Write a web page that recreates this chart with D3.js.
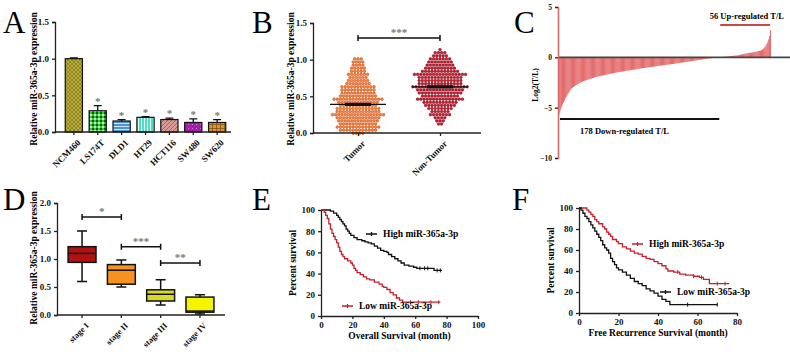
<!DOCTYPE html>
<html>
<head>
<meta charset="utf-8">
<script src="https://cdn.jsdelivr.net/npm/d3@7"></script>
<style>
  body { margin: 0; background: #fff; }
  svg { font-family: 'Liberation Serif', 'Times New Roman', serif; font-weight: bold; }
</style>
</head>
<body>
<div id="fig"></div>
<script>
// ---- data ----
// A: cell lines
const cellLines = ["NCM460", "LS174T", "DLD1", "HT29", "HCT116", "SW480", "SW620"];
const cellMeans = [1.00, 0.29, 0.15, 0.20, 0.17, 0.13, 0.13];
const cellErrors = [0.01, 0.07, 0.02, 0.01, 0.02, 0.05, 0.04];
const cellStars = ["", "*", "*", "*", "*", "*", "*"];

// B: tumor vs non-tumor
const groupNames = ["Tumor", "Non-Tumor"];
const groupMeans = [0.39, 0.63];
const tumorValues = [
  1.02, 1.01, 0.99, 0.98,
  0.97, 0.96, 0.95, 0.94, 0.93,
  0.92, 0.91, 0.90, 0.90, 0.89, 0.88,
  0.87, 0.86, 0.85, 0.84, 0.84, 0.83,
  0.82, 0.81, 0.80, 0.80, 0.79, 0.78, 0.78,
  0.77, 0.76, 0.76, 0.75, 0.74, 0.74, 0.73, 0.73,
  0.72, 0.72, 0.71, 0.70, 0.70, 0.69, 0.69, 0.68, 0.68,
  0.67, 0.67, 0.66, 0.66, 0.65, 0.65, 0.64, 0.64, 0.63, 0.63, 0.63, 0.62,
  0.62, 0.61, 0.61, 0.60, 0.60, 0.60, 0.59, 0.59, 0.58, 0.58, 0.58, 0.57, 0.57,
  0.57, 0.56, 0.56, 0.55, 0.55, 0.55, 0.54, 0.54, 0.54, 0.53, 0.53, 0.53, 0.52, 0.52,
  0.52, 0.51, 0.51, 0.51, 0.50, 0.50, 0.50, 0.49, 0.49, 0.49, 0.48, 0.48, 0.48, 0.47, 0.47,
  0.47, 0.46, 0.46, 0.46, 0.45, 0.45, 0.45, 0.45, 0.44, 0.44, 0.44, 0.43, 0.43, 0.43, 0.42, 0.42,
  0.42, 0.41, 0.41, 0.41, 0.40, 0.40, 0.40, 0.40, 0.39, 0.39, 0.39, 0.38, 0.38, 0.38, 0.37, 0.37,
  0.37, 0.36, 0.36, 0.36, 0.35, 0.35, 0.35, 0.35, 0.34, 0.34, 0.34, 0.34, 0.33, 0.33, 0.33, 0.32, 0.32,
  0.32, 0.31, 0.31, 0.31, 0.30, 0.30, 0.30, 0.30, 0.29, 0.29, 0.29, 0.29, 0.28, 0.28, 0.28, 0.27, 0.27,
  0.27, 0.26, 0.26, 0.26, 0.25, 0.25, 0.25, 0.25, 0.24, 0.24, 0.24, 0.24, 0.23, 0.23, 0.23, 0.22, 0.22,
  0.22, 0.21, 0.21, 0.21, 0.20, 0.20, 0.20, 0.20, 0.19, 0.19, 0.19, 0.19, 0.18, 0.18, 0.18, 0.17, 0.17,
  0.17, 0.16, 0.16, 0.16, 0.15, 0.15, 0.15, 0.15, 0.14, 0.14, 0.14, 0.13, 0.13, 0.13, 0.12, 0.12,
  0.12, 0.11, 0.11, 0.11, 0.10, 0.10, 0.10, 0.09, 0.09, 0.09, 0.08, 0.08, 0.08, 0.07,
  0.07, 0.06, 0.06, 0.06, 0.05, 0.05, 0.05, 0.04, 0.04, 0.04, 0.03, 0.03,
  0.03, 0.02, 0.02, 0.02, 0.01, 0.01, 0.01, 0.00
];
const nonTumorValues = [
  1.12, 1.11, 1.10, 1.10,
  1.08, 1.07, 1.06, 1.05, 1.05, 1.04,
  1.03, 1.02, 1.02, 1.01, 1.00, 1.00, 0.99, 0.98, 0.98,
  0.97, 0.97, 0.96, 0.96, 0.95, 0.95, 0.94, 0.94, 0.93, 0.93, 0.93,
  0.92, 0.92, 0.91, 0.91, 0.90, 0.90, 0.90, 0.89, 0.89, 0.88, 0.88, 0.88,
  0.87, 0.87, 0.86, 0.86, 0.86, 0.85, 0.85, 0.85, 0.84, 0.84, 0.84, 0.83, 0.83, 0.83,
  0.82, 0.82, 0.82, 0.81, 0.81, 0.81, 0.80, 0.80, 0.80, 0.80, 0.79, 0.79, 0.79, 0.78, 0.78, 0.78, 0.78,
  0.77, 0.77, 0.77, 0.76, 0.76, 0.76, 0.75, 0.75, 0.75, 0.75, 0.74, 0.74, 0.74, 0.74, 0.73, 0.73, 0.73, 0.73,
  0.72, 0.72, 0.72, 0.71, 0.71, 0.71, 0.70, 0.70, 0.70, 0.70, 0.69, 0.69, 0.69, 0.69, 0.68, 0.68, 0.68, 0.68,
  0.67, 0.67, 0.67, 0.66, 0.66, 0.66, 0.65, 0.65, 0.65, 0.65, 0.64, 0.64, 0.64, 0.64, 0.63, 0.63, 0.63, 0.63,
  0.62, 0.62, 0.62, 0.61, 0.61, 0.61, 0.60, 0.60, 0.60, 0.60, 0.59, 0.59, 0.59, 0.59, 0.58, 0.58, 0.58, 0.58,
  0.57, 0.57, 0.57, 0.56, 0.56, 0.56, 0.55, 0.55, 0.55, 0.55, 0.54, 0.54, 0.54, 0.53, 0.53, 0.53, 0.53,
  0.52, 0.52, 0.52, 0.51, 0.51, 0.51, 0.50, 0.50, 0.50, 0.49, 0.49, 0.49, 0.48, 0.48, 0.48, 0.48,
  0.47, 0.47, 0.46, 0.46, 0.46, 0.45, 0.45, 0.45, 0.44, 0.44, 0.44, 0.43, 0.43, 0.43, 0.43,
  0.42, 0.42, 0.41, 0.41, 0.40, 0.40, 0.40, 0.39, 0.39, 0.39, 0.38, 0.38, 0.38,
  0.37, 0.37, 0.36, 0.36, 0.35, 0.35, 0.34, 0.34, 0.33, 0.33,
  0.32, 0.32, 0.31, 0.30, 0.30, 0.29, 0.29, 0.28,
  0.27, 0.27, 0.26, 0.25, 0.25, 0.24, 0.23,
  0.22, 0.21, 0.20, 0.19, 0.18,
  0.17, 0.15, 0.14,
  0.11
];

// C: log2(T/L) per patient, sorted
const downValues = [
  -5.70, -5.50, -5.20, -4.95, -4.70, -4.50, -4.30, -4.10, -3.95, -3.80,
  -3.62, -3.50, -3.35, -3.20, -3.10, -3.02, -2.95, -2.88, -2.82, -2.76,
  -2.70, -2.65, -2.60, -2.55, -2.50, -2.46, -2.42, -2.38, -2.34, -2.30,
  -2.27, -2.24, -2.21, -2.18, -2.15, -2.12, -2.09, -2.06, -2.03, -2.00,
  -1.97, -1.95, -1.93, -1.91, -1.89, -1.87, -1.85, -1.83, -1.81, -1.79,
  -1.77, -1.75, -1.73, -1.71, -1.69, -1.67, -1.65, -1.63, -1.61, -1.59,
  -1.57, -1.55, -1.53, -1.52, -1.50, -1.48, -1.47, -1.45, -1.44, -1.42,
  -1.41, -1.39, -1.38, -1.36, -1.35, -1.33, -1.32, -1.30, -1.29, -1.27,
  -1.26, -1.24, -1.23, -1.21, -1.20, -1.18, -1.17, -1.15, -1.14, -1.12,
  -1.11, -1.10, -1.08, -1.07, -1.06, -1.04, -1.03, -1.02, -1.00, -0.99,
  -0.98, -0.97, -0.95, -0.94, -0.93, -0.91, -0.90, -0.89, -0.87, -0.86,
  -0.85, -0.84, -0.82, -0.81, -0.80, -0.79, -0.77, -0.76, -0.75, -0.74,
  -0.73, -0.71, -0.70, -0.69, -0.67, -0.66, -0.65, -0.63, -0.62, -0.61,
  -0.59, -0.58, -0.57, -0.55, -0.54, -0.53, -0.51, -0.50, -0.49, -0.47,
  -0.46, -0.45, -0.43, -0.42, -0.40, -0.39, -0.38, -0.36, -0.35, -0.34,
  -0.32, -0.31, -0.29, -0.28, -0.27, -0.25, -0.24, -0.22, -0.21, -0.19,
  -0.18, -0.17, -0.15, -0.14, -0.13, -0.11, -0.10, -0.09, -0.08, -0.07,
  -0.06, -0.05, -0.04, -0.03, -0.03, -0.02, -0.01, -0.01
];
const upValues = [
  0.01, 0.02, 0.03, 0.04, 0.05, 0.06, 0.07, 0.08, 0.09, 0.10,
  0.11, 0.12, 0.13, 0.14, 0.15, 0.16, 0.17, 0.18, 0.19, 0.20,
  0.22, 0.24, 0.26, 0.28, 0.30, 0.32, 0.34, 0.36, 0.38, 0.40,
  0.42, 0.44, 0.45, 0.46, 0.47, 0.48, 0.50, 0.52, 0.54, 0.56,
  0.58, 0.60, 0.62, 0.65, 0.68, 0.72, 0.78, 0.85, 0.95, 1.05,
  1.20, 1.35, 1.55, 1.80, 2.10, 2.70
];

// D: stages box plot
const stages = ["stage I", "stage II", "stage III", "stage IV"];
const stageMin = [0.60, 0.50, 0.18, 0.02];
const stageQ1 = [0.94, 0.55, 0.25, 0.05];
const stageMedian = [1.10, 0.80, 0.37, 0.07];
const stageQ3 = [1.22, 0.90, 0.45, 0.32];
const stageMax = [1.50, 0.98, 0.63, 0.36];

// E: overall survival (month, %)
const osHigh = [[0,100],[4,100],[6,99],[8,97],[10,95],[11,93],[12,91],[13,89],[14,87],[15,85],[16,82],[17,80],[18,78],[19,76],[21,74],[23,72],[26,71],[28,70],[30,69],[32,68],[34,66],[36,64],[38,62],[40,61],[42,60],[43,58],[45,56],[47,54],[49,52],[51,50],[53,48],[56,47],[59,46],[61,45],[71,45],[72,43],[77,43]];
const osLow = [[0,100],[2,98],[3,95],[4,92],[5,87],[6,82],[7,78],[8,75],[9,72],[10,69],[11,65],[12,61],[13,58],[14,56],[15,54],[17,52],[19,50],[20,48],[21,45],[22,43],[23,41],[25,39],[27,37],[29,35],[31,34],[34,32],[37,30],[39,28],[40,27],[42,25],[44,22],[46,20],[48,17],[50,15],[52,13],[76,13]];
const osHighCensor = [63, 66, 68, 74, 76];
const osLowCensor = [57, 62, 70, 75];

// F: recurrence-free survival (month, %)
const rfsHigh = [[0,100],[3,100],[4,98],[5,96],[6,94],[7,92],[8,89],[9,87],[10,85],[12,82],[13,80],[14,77],[15,75],[16,73],[17,70],[19,68],[20,66],[22,63],[24,61],[26,59],[28,57],[30,56],[32,54],[34,52],[36,51],[38,49],[40,47],[42,45],[44,42],[45,40],[48,39],[51,37],[54,36],[58,35],[61,34],[63,32],[66,28],[76,28]];
const rfsLow = [[0,100],[1,98],[2,95],[3,92],[4,90],[5,87],[6,84],[7,81],[8,78],[9,75],[10,72],[11,69],[12,65],[13,62],[14,60],[15,57],[16,52],[17,49],[18,46],[19,43],[20,41],[22,39],[24,36],[26,33],[28,30],[30,28],[32,26],[34,23],[36,21],[38,19],[40,16],[42,13],[44,11],[46,8],[70,8]];
const rfsHighCensor = [50, 58, 62, 70, 74];
const rfsLowCensor = [55, 70];

// ---- drawing ----
const W = 790, H = 354;
const svg = d3.select("#fig").append("svg").attr("width", W).attr("height", H);

const defs = svg.append("defs");
function pattern(id, size, base, draw) {
  const p = defs.append("pattern").attr("id", id).attr("patternUnits", "userSpaceOnUse")
    .attr("width", size).attr("height", size);
  p.append("rect").attr("width", size).attr("height", size).attr("fill", base);
  draw(p);
}
pattern("pNCM", 4, "#b8ad3a", p => {
  p.append("path").attr("d", "M0,4L4,0M0,0L4,4").attr("stroke", "#857c1c").attr("stroke-width", 0.8);
});
pattern("pLS", 4, "#35c83a", p => {
  p.append("rect").attr("width", 2).attr("height", 2).attr("fill", "#0d5a12");
  p.append("rect").attr("x", 2).attr("y", 2).attr("width", 2).attr("height", 2).attr("fill", "#b8f0b0");
});
pattern("pDLD", 3, "#4c94d6", p => {
  p.append("rect").attr("width", 3).attr("height", 1).attr("fill", "#cfe3f5");
});
pattern("pHT", 3, "#55dcc0", p => {
  p.append("rect").attr("width", 1).attr("height", 3).attr("fill", "#e0fff5");
});
pattern("pHCT", 4, "#d99a98", p => {
  p.append("path").attr("d", "M0,4L4,0").attr("stroke", "#9e5a58").attr("stroke-width", 0.9);
});
pattern("pSW480", 4, "#a51fa8", p => {
  p.append("rect").attr("width", 1).attr("height", 1).attr("fill", "#d070d0");
});
pattern("pSW620", 4, "#d8913c", p => {
  p.append("path").attr("d", "M0,0.5H4M0.5,0V4").attr("stroke", "#8a5210").attr("stroke-width", 0.8);
});
const cellFills = ["url(#pNCM)", "url(#pLS)", "url(#pDLD)", "url(#pHT)", "url(#pHCT)", "url(#pSW480)", "url(#pSW620)"];

function styleAxis(g, size) {
  g.attr("font-family", null).attr("font-size", null);
  g.selectAll("path, line").attr("stroke", "#222").attr("stroke-width", 1.3);
  g.selectAll("text").attr("font-size", size || 9).attr("font-weight", "bold").attr("fill", "#111");
}
function panelLetter(t, x, y) {
  svg.append("text").attr("x", x).attr("y", y).attr("font-size", 31).attr("font-weight", "normal").text(t);
}
function yLabel(t, x, cy, size) {
  svg.append("text").attr("transform", `translate(${x},${cy}) rotate(-90)`)
    .attr("text-anchor", "middle").attr("font-size", size).text(t);
}
function bracket(x1, x2, y, label) {
  svg.append("path").attr("d", `M${x1},${y - 3}V${y + 3}M${x1},${y}H${x2}M${x2},${y - 3}V${y + 3}`)
    .attr("stroke", "#111").attr("stroke-width", 1.5).attr("fill", "none");
  svg.append("text").attr("x", (x1 + x2) / 2).attr("y", y - 2).attr("text-anchor", "middle")
    .attr("font-size", 11).attr("fill", "#777").text(label);
}

// ===== Panel A =====
panelLetter("A", 3, 33);
{
  const x = d3.scaleBand().domain(cellLines).range([60, 231]).paddingInner(0.28).paddingOuter(0.22);
  const y = d3.scaleLinear().domain([0, 1.5]).range([132, 22]);
  const g = svg.append("g");
  g.selectAll("rect").data(cellLines).join("rect")
    .attr("x", d => x(d)).attr("width", x.bandwidth())
    .attr("y", (d, i) => y(cellMeans[i])).attr("height", (d, i) => y(0) - y(cellMeans[i]))
    .attr("fill", (d, i) => cellFills[i]).attr("stroke", "#111").attr("stroke-width", 1.2);
  cellLines.forEach((d, i) => {
    const cx = x(d) + x.bandwidth() / 2, top = y(cellMeans[i] + cellErrors[i]);
    g.append("path").attr("d", `M${cx},${y(cellMeans[i])}V${top}M${cx - 4},${top}H${cx + 4}`)
      .attr("stroke", "#111").attr("stroke-width", 1.3);
    if (cellStars[i]) g.append("text").attr("x", cx).attr("y", top - 1).attr("text-anchor", "middle")
      .attr("font-size", 11).attr("fill", "#777").text(cellStars[i]);
  });
  const ya = svg.append("g").attr("transform", "translate(55,0)")
    .call(d3.axisLeft(y).tickValues([0, 0.5, 1.0, 1.5]).tickFormat(d3.format(".1f")).tickSize(3));
  styleAxis(ya);
  const xa = svg.append("g").attr("transform", "translate(0,132)")
    .call(d3.axisBottom(x).tickSize(3).tickSizeOuter(0));
  xa.select(".domain").attr("d", "M55,0H231");
  styleAxis(xa);
  xa.selectAll("text").attr("text-anchor", "end").attr("dy", 0)
    .attr("transform", "translate(3,7) rotate(-45)");
  yLabel("Relative miR-365a-3p expression", 37, 79, 9.5);
}

// ===== Panel B =====
panelLetter("B", 252, 33);
{
  const x = d3.scalePoint().domain(groupNames).range([358, 440]);
  const y = d3.scaleLinear().domain([0, 1.5]).range([133, 23]);
  const rowH = 3.1, dx = 3.2;
  const groups = [tumorValues, nonTumorValues];
  const fills = ["#f4873a", "#c81c30"], strokes = ["#c2471a", "#7d0c18"];
  groups.forEach((vals, gi) => {
    const rows = d3.groups(vals, v => Math.round(y(v) / rowH));
    const pts = [];
    rows.forEach(([r, vs]) => vs.forEach((v, i) => pts.push({ x: x(groupNames[gi]) + (i - (vs.length - 1) / 2) * dx, y: r * rowH })));
    svg.append("g").selectAll("circle").data(pts).join("circle")
      .attr("cx", d => d.x).attr("cy", d => d.y).attr("r", 1.35)
      .attr("fill", fills[gi]).attr("stroke", strokes[gi]).attr("stroke-width", 0.5);
    const cx = x(groupNames[gi]), my = y(groupMeans[gi]);
    svg.append("line").attr("x1", cx - 28).attr("x2", cx + 28).attr("y1", my).attr("y2", my)
      .attr("stroke", "#111").attr("stroke-width", 1.2);
    svg.append("line").attr("x1", cx - 13).attr("x2", cx + 13).attr("y1", my).attr("y2", my)
      .attr("stroke", "#111").attr("stroke-width", 3.2);
  });
  const ya = svg.append("g").attr("transform", "translate(313,0)")
    .call(d3.axisLeft(y).tickValues([0, 0.5, 1.0, 1.5]).tickFormat(d3.format(".1f")).tickSize(3));
  styleAxis(ya);
  const xa = svg.append("g").attr("transform", "translate(0,133)")
    .call(d3.axisBottom(x).tickSize(3).tickSizeOuter(0));
  xa.select(".domain").attr("d", "M313,0H481");
  styleAxis(xa);
  xa.selectAll("text").attr("text-anchor", "end").attr("dy", 0)
    .attr("transform", "translate(3,7) rotate(-45)");
  bracket(x("Tumor"), x("Non-Tumor"), 38, "***");
  yLabel("Relative miR-365a-3p expression", 294, 79, 9.5);
}

// ===== Panel C =====
panelLetter("C", 514, 33);
{
  const vals = downValues.concat(upValues);
  const x = d3.scaleBand().domain(d3.range(vals.length)).range([558.5, 771]).paddingInner(0.05);
  const y = d3.scaleLinear().domain([-10, 5]).range([158, 7]);
  svg.append("g").selectAll("rect").data(vals).join("rect")
    .attr("x", (d, i) => x(i)).attr("width", x.bandwidth())
    .attr("y", d => Math.min(y(0), y(d))).attr("height", d => Math.abs(y(d) - y(0)))
    .attr("fill", "#e05858");
  svg.append("line").attr("x1", 558).attr("x2", 790).attr("y1", y(0)).attr("y2", y(0))
    .attr("stroke", "#444").attr("stroke-width", 1.6);
  const ya = svg.append("g").attr("transform", "translate(558,0)")
    .call(d3.axisLeft(y).tickValues([5, 0, -5, -10]).tickSize(3));
  styleAxis(ya, 7.5);
  ya.select(".domain").attr("stroke", "#d46a6a").attr("stroke-width", 1.6);
  yLabel("Log2(T/L)", 538, 85, 7.5);
  svg.append("text").attr("x", 784).attr("y", 19).attr("text-anchor", "end").attr("font-size", 8.5).text("56 Up-regulated T/L");
  svg.append("line").attr("x1", x(178)).attr("x2", x(vals.length - 1)).attr("y1", 25).attr("y2", 25)
    .attr("stroke", "#c44a4a").attr("stroke-width", 1.8);
  svg.append("line").attr("x1", 560).attr("x2", x(177)).attr("y1", 119).attr("y2", 119)
    .attr("stroke", "#111").attr("stroke-width", 1.8);
  svg.append("text").attr("x", 580).attr("y", 134).attr("font-size", 8.5).text("178 Down-regulated T/L");
}

// ===== Panel D =====
panelLetter("D", 3, 210);
{
  const x = d3.scaleBand().domain(stages).range([62, 220]).paddingInner(0.29).paddingOuter(0.155);
  const y = d3.scaleLinear().domain([0, 2]).range([315, 203]);
  const boxFills = ["#b01212", "#f7921e", "#d8d82a", "#f6f400"];
  stages.forEach((s, i) => {
    const x0 = x(s), bw = x.bandwidth(), cx = x0 + bw / 2;
    svg.append("path").attr("d", `M${cx},${y(stageMin[i])}V${y(stageQ1[i])}M${cx},${y(stageQ3[i])}V${y(stageMax[i])}` +
      `M${cx - 5},${y(stageMin[i])}H${cx + 5}M${cx - 5},${y(stageMax[i])}H${cx + 5}`)
      .attr("stroke", "#111").attr("stroke-width", 1.5);
    svg.append("rect").attr("x", x0).attr("width", bw).attr("y", y(stageQ3[i]))
      .attr("height", y(stageQ1[i]) - y(stageQ3[i])).attr("fill", boxFills[i])
      .attr("stroke", "#111").attr("stroke-width", 1.5);
    svg.append("line").attr("x1", x0).attr("x2", x0 + bw).attr("y1", y(stageMedian[i])).attr("y2", y(stageMedian[i]))
      .attr("stroke", "#111").attr("stroke-width", 1.5);
  });
  const ya = svg.append("g").attr("transform", "translate(57,0)")
    .call(d3.axisLeft(y).tickValues([0, 0.5, 1.0, 1.5, 2.0]).tickFormat(d3.format(".1f")).tickSize(3));
  styleAxis(ya);
  const xa = svg.append("g").attr("transform", "translate(0,315)")
    .call(d3.axisBottom(x).tickSize(3).tickSizeOuter(0));
  xa.select(".domain").attr("d", "M57,0H225");
  styleAxis(xa, 8.5);
  xa.selectAll("text").attr("text-anchor", "end").attr("dy", 0)
    .attr("transform", "translate(3,7) rotate(-45)");
  const c = s => x(s) + x.bandwidth() / 2;
  bracket(c("stage I"), c("stage II"), y(1.75), "*");
  bracket(c("stage II"), c("stage III"), y(1.22), "***");
  bracket(c("stage III"), c("stage IV"), y(0.93), "**");
  yLabel("Relative miR-365a-3p expression", 37, 258, 9.5);
}

// ===== survival helper =====
function survivalPanel(opt) {
  const x = d3.scaleLinear().domain([0, opt.xmax]).range(opt.xr);
  const y = d3.scaleLinear().domain([0, 100]).range(opt.yr);
  const line = d3.line().x(d => x(d[0])).y(d => y(d[1])).curve(d3.curveStepAfter);
  const survAt = (curve, t) => { let s = 100; curve.forEach(p => { if (p[0] <= t) s = p[1]; }); return s; };
  opt.curves.forEach(cv => {
    svg.append("path").datum(cv.data).attr("d", line).attr("fill", "none")
      .attr("stroke", cv.color).attr("stroke-width", 1.3);
    svg.append("g").selectAll("line").data(cv.censor).join("line")
      .attr("x1", d => x(d)).attr("x2", d => x(d))
      .attr("y1", d => y(survAt(cv.data, d)) - 2).attr("y2", d => y(survAt(cv.data, d)) + 2)
      .attr("stroke", cv.color).attr("stroke-width", 1);
    const [lx, ly] = cv.legend;
    svg.append("path").attr("d", `M${lx},${ly}H${lx + 11}M${lx + 5.5},${ly - 2}V${ly + 2}`)
      .attr("stroke", cv.color).attr("stroke-width", 1.3);
    svg.append("text").attr("x", lx + 17).attr("y", ly + 3).attr("font-size", 9.5).text(cv.name);
  });
  const ya = svg.append("g").attr("transform", `translate(${opt.xr[0]},0)`)
    .call(d3.axisLeft(y).tickValues([0, 20, 40, 60, 80, 100]).tickSize(3).tickSizeOuter(0));
  styleAxis(ya);
  const xa = svg.append("g").attr("transform", `translate(0,${opt.yr[0]})`)
    .call(d3.axisBottom(x).ticks(opt.xmax / 20).tickSize(3).tickSizeOuter(0));
  styleAxis(xa);
  svg.append("text").attr("x", (opt.xr[0] + opt.xr[1]) / 2).attr("y", opt.yr[0] + 23)
    .attr("text-anchor", "middle").attr("font-size", 9.5).text(opt.xlabel);
  yLabel("Percent survival", opt.xr[0] - 25, (opt.yr[0] + opt.yr[1]) / 2, 9.5);
}

// ===== Panel E =====
panelLetter("E", 252, 210);
survivalPanel({
  xmax: 100, xr: [321, 478], yr: [316, 210], xlabel: "Overall Survival (month)",
  curves: [
    { data: osHigh, censor: osHighCensor, color: "#111", name: "High miR-365a-3p", legend: [366, 234] },
    { data: osLow, censor: osLowCensor, color: "#c8202a", name: "Low miR-365a-3p", legend: [342, 306] }
  ]
});

// ===== Panel F =====
panelLetter("F", 512, 210);
survivalPanel({
  xmax: 80, xr: [579, 737], yr: [313, 208], xlabel: "Free Recurrence Survival (month)",
  curves: [
    { data: rfsHigh, censor: rfsHighCensor, color: "#c8202a", name: "High miR-365a-3p", legend: [632, 244] },
    { data: rfsLow, censor: rfsLowCensor, color: "#111", name: "Low miR-365a-3p", legend: [660, 292] }
  ]
});
</script>
</body>
</html>
